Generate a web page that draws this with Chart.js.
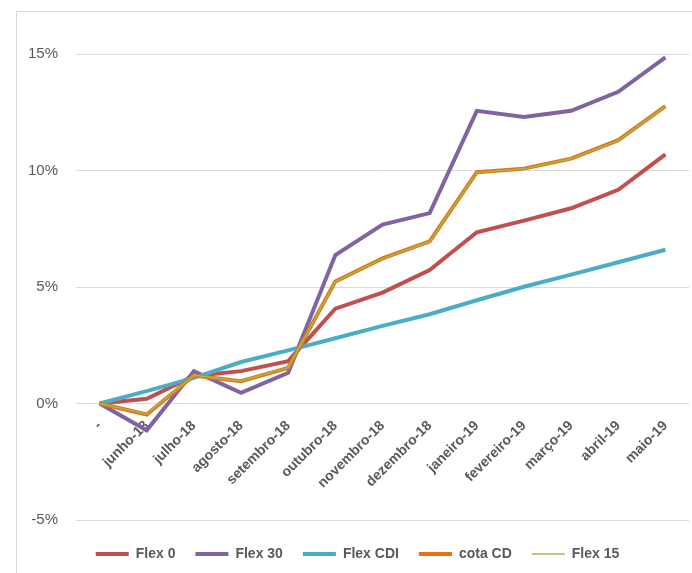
<!DOCTYPE html>
<html>
<head>
<meta charset="utf-8">
<script src="https://cdn.jsdelivr.net/npm/chart.js@4/dist/chart.umd.min.js"></script>
<style>
  html, body { margin: 0; padding: 0; background: #fff; overflow: hidden; }
  #wrap { position: relative; width: 692px; height: 573px; }
  #frame { position: absolute; left: 16px; top: 11px; width: 720px; height: 620px; border: 1px solid #d9d9d9; box-sizing: border-box; }
  #c { position: absolute; left: 0; top: 0; }
</style>
</head>
<body>
<div id="wrap">
  <div id="frame"></div>
  <canvas id="c" width="692" height="573"></canvas>
</div>
<script>
// Monthly categories (first point is the starting reference)
const categories = ['-', 'junho-18', 'julho-18', 'agosto-18', 'setembro-18', 'outubro-18',
  'novembro-18', 'dezembro-18', 'janeiro-19', 'fevereiro-19', 'março-19', 'abril-19', 'maio-19'];

// Accumulated return per profile, in %
const flex0   = [0, 0.20, 1.18, 1.39, 1.82, 4.07, 4.76, 5.73, 7.35, 7.85, 8.38, 9.17, 10.69];
const flex30  = [0, -1.15, 1.39, 0.46, 1.32, 6.37, 7.68, 8.17, 12.56, 12.30, 12.56, 13.38, 14.86];
const flexCDI = [0, 0.53, 1.10, 1.78, 2.28, 2.80, 3.33, 3.83, 4.43, 5.01, 5.53, 6.06, 6.60];
const cotaCD  = [0, -0.47, 1.20, 0.96, 1.53, 5.24, 6.23, 6.96, 9.93, 10.08, 10.51, 11.30, 12.76];
const flex15  = [0, -0.45, 1.21, 0.97, 1.54, 5.23, 6.22, 6.95, 9.92, 10.07, 10.50, 11.29, 12.75];

// Tick labels of the value axis
const yTicks = [-5, 0, 5, 10, 15];

const grey = '#595959';
const line = (label, data, color, width, order) => ({
  label, data, borderColor: color, backgroundColor: color, borderWidth: width,
  pointRadius: 0, pointHoverRadius: 0, tension: 0, order, borderJoinStyle: 'miter'
});

new Chart(document.getElementById('c'), {
  type: 'line',
  data: {
    labels: categories,
    datasets: [
      line('Flex 0', flex0, '#C0504D', 4, 5),
      line('Flex 30', flex30, '#8064A2', 4, 4),
      line('Flex CDI', flexCDI, '#4BACC6', 4, 3),
      line('cota CD', cotaCD, '#E8730F', 4, 2),
      line('Flex 15', flex15, '#9BBB59', 1.5, 1)
    ]
  },
  options: {
    responsive: false,
    animation: false,
    events: [],
    layout: { padding: { left: 26, right: 3, top: 54, bottom: 2 } },
    scales: {
      x: {
        type: 'category',
        position: { y: 0 },
        offset: true,
        grid: { display: false, drawTicks: false },
        border: { display: false },
        ticks: {
          autoSkip: false,
          minRotation: 45, maxRotation: 45,
          padding: 14,
          color: grey,
          font: { family: 'Liberation Sans', size: 14, weight: 'bold' }
        }
      },
      y: {
        min: -5.3, max: 15,
        afterBuildTicks: (s) => { s.ticks = yTicks.map(v => ({ value: v })); },
        afterFit: (s) => { s.width = 50; },
        grid: { color: '#d9d9d9', lineWidth: 1, drawTicks: false },
        border: { display: false },
        ticks: {
          padding: 18,
          color: grey,
          font: { family: 'Liberation Sans', size: 15 },
          callback: (v) => v + '%'
        }
      }
    },
    plugins: {
      tooltip: { enabled: false },
      legend: {
        position: 'bottom',
        labels: {
          usePointStyle: true,
          pointStyle: 'line',
          pointStyleWidth: 33,
          padding: 20,
          color: grey,
          sort: (a, b) => a.datasetIndex - b.datasetIndex,
          font: { family: 'Liberation Sans', size: 14, weight: 'bold' }
        }
      }
    }
  }
});
</script>
</body>
</html>
